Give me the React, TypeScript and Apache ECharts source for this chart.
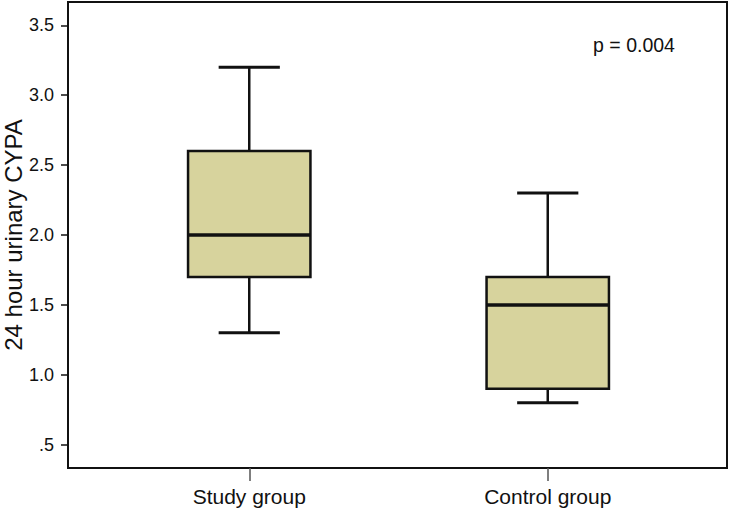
import React, { useEffect, useRef } from 'react';
import * as echarts from 'echarts';

const categories = ['Study group', 'Control group'];
const whiskerLow = [1.3, 0.8];
const q1 = [1.7, 0.9];
const median = [2.0, 1.5];
const q3 = [2.6, 1.7];
const whiskerHigh = [3.2, 2.3];
const yTickValues = [0.5, 1.0, 1.5, 2.0, 2.5, 3.0, 3.5];
const yTickLabels = ['.5', '1.0', '1.5', '2.0', '2.5', '3.0', '3.5'];
const yTitle = '24 hour urinary CYPA';
const pText = 'p = 0.004';

const FONT = '"Liberation Sans", Arial, sans-serif';
const INK = '#111111';
const FILL = '#D7D39D';
const Y_MIN = 0.3333;
const Y_MAX = 3.6667;

export default function App() {
  const ref = useRef<HTMLDivElement>(null);
  useEffect(() => {
    document.body.style.margin = '0';
    if (!ref.current) return;
    const chart = echarts.init(ref.current, undefined, { renderer: 'svg' });
    const data = categories.map((_, i) => [i, whiskerLow[i], q1[i], median[i], q3[i], whiskerHigh[i]]);
    chart.setOption({
      animation: false,
      backgroundColor: '#ffffff',
      grid: [
        {
          left: 68, right: 7, top: 2, bottom: 44, show: true, borderColor: INK, borderWidth: 2,
          backgroundColor: 'transparent', outerBoundsMode: 'none', containLabel: false,
        },
        { left: 100, right: 37, top: 2, bottom: 44, outerBoundsMode: 'none', containLabel: false },
      ],
      xAxis: [
        { gridIndex: 0, type: 'value', min: 0, max: 1, show: false },
        {
          gridIndex: 1,
          type: 'category',
          data: categories,
          axisLine: { show: false },
          axisTick: { show: true, alignWithLabel: true, length: 13, lineStyle: { color: '#555', width: 1.5 } },
          axisLabel: { fontSize: 21, color: INK, fontFamily: FONT, margin: 18 },
        },
      ],
      yAxis: [
        {
          gridIndex: 0,
          type: 'value',
          min: Y_MIN,
          max: Y_MAX,
          name: yTitle,
          nameLocation: 'middle',
          nameGap: 43,
          nameMoveOverlap: false,
          nameTextStyle: { fontSize: 24, color: INK, fontFamily: FONT },
          axisLine: { show: false },
          splitLine: { show: false },
          axisTick: { show: true, length: 7, customValues: yTickValues, lineStyle: { color: INK, width: 1.5 } },
          axisLabel: {
            fontSize: 18,
            color: INK,
            fontFamily: FONT,
            margin: 14,
            customValues: yTickValues,
            formatter: (v: number) => {
              const i = yTickValues.findIndex((t) => Math.abs(t - v) < 1e-6);
              return i >= 0 ? yTickLabels[i] : '';
            },
          },
        },
        { gridIndex: 1, type: 'value', min: Y_MIN, max: Y_MAX, show: false, splitLine: { show: false } },
      ],
      graphic: [
        {
          type: 'text',
          x: 634,
          y: 45,
          style: { text: pText, fontSize: 19.5, fontFamily: FONT, fill: INK, align: 'center', verticalAlign: 'middle' },
        },
      ],
      series: [
        {
          type: 'custom',
          xAxisIndex: 1,
          yAxisIndex: 1,
          encode: { x: 0, y: [1, 2, 3, 4, 5] },
          data,
          renderItem: (params: any, api: any) => {
            const x = api.value(0);
            const lo = api.coord([x, api.value(1)]);
            const b1 = api.coord([x, api.value(2)]);
            const md = api.coord([x, api.value(3)]);
            const b3 = api.coord([x, api.value(4)]);
            const hi = api.coord([x, api.value(5)]);
            const band = api.size([1, 0])[0];
            const bw = band * 0.41;
            const cw = bw / 2;
            const cx = lo[0];
            const ls = { stroke: INK, lineWidth: 2.5 };
            return {
              type: 'group',
              children: [
                { type: 'line', shape: { x1: cx, y1: hi[1], x2: cx, y2: b3[1] }, style: ls },
                { type: 'line', shape: { x1: cx, y1: b1[1], x2: cx, y2: lo[1] }, style: ls },
                { type: 'line', shape: { x1: cx - cw / 2, y1: hi[1], x2: cx + cw / 2, y2: hi[1] }, style: { stroke: INK, lineWidth: 3 } },
                { type: 'line', shape: { x1: cx - cw / 2, y1: lo[1], x2: cx + cw / 2, y2: lo[1] }, style: { stroke: INK, lineWidth: 3 } },
                {
                  type: 'rect',
                  shape: { x: cx - bw / 2, y: b3[1], width: bw, height: b1[1] - b3[1] },
                  style: { fill: FILL, stroke: INK, lineWidth: 2.5 },
                },
                { type: 'line', shape: { x1: cx - bw / 2, y1: md[1], x2: cx + bw / 2, y2: md[1] }, style: { stroke: INK, lineWidth: 3.5 } },
              ],
            };
          },
        },
      ],
    });
    return () => chart.dispose();
  }, []);
  return <div ref={ref} style={{ width: 734, height: 512 }} />;
}
